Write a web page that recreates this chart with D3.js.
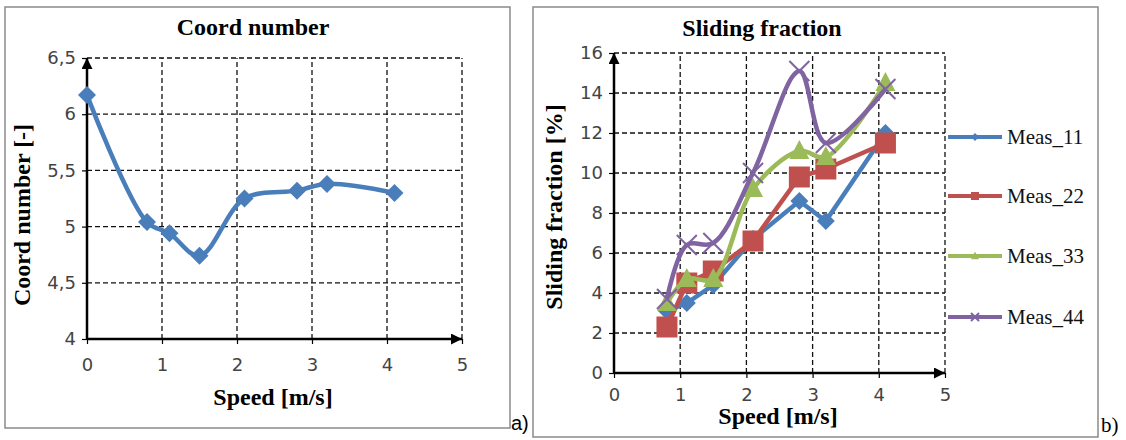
<!DOCTYPE html>
<html>
<head>
<meta charset="utf-8">
<script src="https://cdn.jsdelivr.net/npm/d3@7"></script>
<style>
  body { margin: 0; background: #fff; }
  .grid line { stroke: #111; stroke-width: 1.3; stroke-dasharray: 5,3; }
  .tick text { font-family: "DejaVu Sans", sans-serif; fill: #444; }
</style>
</head>
<body>
<script>
// chart a) coordination number
var speedCoord = [0, 0.8, 1.1, 1.5, 2.1, 2.8, 3.2, 4.1];
var coordNumber = [6.17, 5.04, 4.94, 4.74, 5.25, 5.32, 5.38, 5.30];
var coordXTicks = [0, 1, 2, 3, 4, 5];
var coordYTicks = [4, 4.5, 5, 5.5, 6, 6.5];

// chart b) sliding fraction
var speedSliding = [0.8, 1.1, 1.5, 2.1, 2.8, 3.2, 4.1];
var meas11 = [3.1, 3.5, 4.4, 6.7, 8.6, 7.6, 12.0];
var meas22 = [2.3, 4.5, 5.1, 6.6, 9.8, 10.2, 11.5];
var meas33 = [3.5, 4.7, 4.7, 9.2, 11.1, 10.8, 14.5];
var meas44 = [3.7, 6.4, 6.5, 10.0, 15.1, 11.5, 14.2];
var seriesNames = ["Meas_11", "Meas_22", "Meas_33", "Meas_44"];
var slidingXTicks = [0, 1, 2, 3, 4, 5];
var slidingYTicks = [0, 2, 4, 6, 8, 10, 12, 14, 16];

var colours = ["#4a7ebb", "#c0504d", "#9bbb59", "#8064a2"];
var symbols = ["diamond", "square", "triangle", "cross"];
var markerSize = [9, 10.5, 10, 10];

var width = 1126, height = 440;

var svg = d3.select("body").append("svg")
    .attr("width", width)
    .attr("height", height);

var defs = svg.append("defs");
defs.append("marker")
    .attr("id", "arrow")
    .attr("viewBox", "0 0 10 10")
    .attr("refX", 10).attr("refY", 5)
    .attr("markerUnits", "userSpaceOnUse")
    .attr("markerWidth", 14).attr("markerHeight", 11)
    .attr("orient", "auto")
  .append("path")
    .attr("d", "M0,0L10,5L0,10Z")
    .attr("fill", "#000");

function drawMarker(g, kind, x, y, size, colour) {
    if (kind == "diamond") {
        g.append("path")
            .attr("d", "M" + x + "," + (y - size) + "L" + (x + size) + "," + y + "L" + x + "," + (y + size) + "L" + (x - size) + "," + y + "Z")
            .attr("fill", colour);
    } else if (kind == "square") {
        g.append("rect")
            .attr("x", x - size).attr("y", y - size)
            .attr("width", size * 2).attr("height", size * 2)
            .attr("fill", colour);
    } else if (kind == "triangle") {
        g.append("path")
            .attr("d", "M" + x + "," + (y - size * 1.1) + "L" + (x + size) + "," + (y + size * 0.8) + "L" + (x - size) + "," + (y + size * 0.8) + "Z")
            .attr("fill", colour);
    } else {
        g.append("path")
            .attr("d", "M" + (x - size) + "," + (y - size) + "L" + (x + size) + "," + (y + size) + "M" + (x + size) + "," + (y - size) + "L" + (x - size) + "," + (y + size))
            .attr("stroke", colour).attr("stroke-width", 2).attr("fill", "none");
    }
}

function panel(opts) {
    var g = svg.append("g");
    var x = d3.scaleLinear().domain(opts.xDomain).range(opts.xRange);
    var y = d3.scaleLinear().domain(opts.yDomain).range(opts.yRange);

    g.append("rect")
        .attr("x", opts.box[0]).attr("y", opts.box[1])
        .attr("width", opts.box[2]).attr("height", opts.box[3])
        .attr("fill", "#fff").attr("stroke", "#8a8a8a").attr("stroke-width", 1.5);

    // dashed grid
    var grid = g.append("g").attr("class", "grid");
    grid.selectAll(".gx").data(opts.xTicks.slice(1)).enter().append("line")
        .attr("x1", d => x(d)).attr("x2", d => x(d))
        .attr("y1", y(opts.yDomain[0])).attr("y2", y(opts.yDomain[1]));
    grid.selectAll(".gy").data(opts.yTicks.slice(1)).enter().append("line")
        .attr("x1", x(opts.xDomain[0])).attr("x2", x(opts.xDomain[1]))
        .attr("y1", d => y(d)).attr("y2", d => y(d));

    var fmt = function (d) { return String(d).replace(".", ","); };

    var xAxis = g.append("g")
        .attr("transform", "translate(0," + y(opts.yDomain[0]) + ")")
        .call(d3.axisBottom(x).tickValues(opts.xTicks).tickFormat(fmt).tickSize(5).tickPadding(opts.xPad));
    var yAxis = g.append("g")
        .attr("transform", "translate(" + x(opts.xDomain[0]) + ",0)")
        .call(d3.axisLeft(y).tickValues(opts.yTicks).tickFormat(fmt).tickSize(5).tickPadding(6));
    [xAxis, yAxis].forEach(function (a) {
        a.select(".domain").remove();
        a.selectAll(".tick line").attr("stroke", "#000").attr("stroke-width", 1.2);
        a.selectAll(".tick text").style("font-size", "18px");
    });

    g.append("line")
        .attr("x1", x(opts.xDomain[0])).attr("x2", x(opts.xDomain[1]))
        .attr("y1", y(opts.yDomain[0])).attr("y2", y(opts.yDomain[0]))
        .attr("stroke", "#000").attr("stroke-width", 2.5).attr("marker-end", "url(#arrow)");
    g.append("line")
        .attr("x1", x(opts.xDomain[0])).attr("x2", x(opts.xDomain[0]))
        .attr("y1", y(opts.yDomain[0])).attr("y2", y(opts.yDomain[1]))
        .attr("stroke", "#000").attr("stroke-width", 2.5).attr("marker-end", "url(#arrow)");

    g.append("text")
        .attr("x", opts.titlePos[0]).attr("y", opts.titlePos[1])
        .attr("text-anchor", "middle")
        .style("font-family", "Liberation Serif, serif").style("font-weight", "bold")
        .style("font-size", "24px")
        .text(opts.title);
    g.append("text")
        .attr("x", opts.xLabelPos[0]).attr("y", opts.xLabelPos[1])
        .attr("text-anchor", "middle")
        .style("font-family", "Liberation Serif, serif").style("font-weight", "bold")
        .style("font-size", "24px")
        .text("Speed [m/s]");
    g.append("text")
        .attr("transform", "translate(" + opts.yLabelPos[0] + "," + opts.yLabelPos[1] + ") rotate(-90)")
        .attr("text-anchor", "middle")
        .style("font-family", "Liberation Serif, serif").style("font-weight", "bold")
        .style("font-size", "24px")
        .text(opts.yLabel);

    return { g: g, x: x, y: y };
}

// ---- a) ----
var a = panel({
    box: [5, 7, 505, 421],
    xDomain: [0, 5], xRange: [87, 462],
    yDomain: [4, 6.5], yRange: [339, 58],
    xTicks: coordXTicks, yTicks: coordYTicks, xPad: 14,
    title: "Coord number", titlePos: [253, 35],
    xLabelPos: [273, 405], yLabelPos: [30, 215],
    yLabel: "Coord number [-]"
});

var coordLine = d3.line()
    .x(function (d, i) { return a.x(speedCoord[i]); })
    .y(function (d) { return a.y(d); })
    .curve(d3.curveCatmullRom.alpha(0.5));

a.g.append("path")
    .datum(coordNumber)
    .attr("d", coordLine)
    .attr("fill", "none").attr("stroke", colours[0]).attr("stroke-width", 4.5);
coordNumber.forEach(function (v, i) {
    drawMarker(a.g, "diamond", a.x(speedCoord[i]), a.y(v), 9, colours[0]);
});

svg.append("text").attr("x", 511).attr("y", 430)
    .style("font-family", "Liberation Sans, sans-serif").style("font-size", "20px")
    .text("a)");

// ---- b) ----
var b = panel({
    box: [533, 7, 565, 430],
    xDomain: [0, 5], xRange: [614, 945],
    yDomain: [0, 16], yRange: [373, 53],
    xTicks: slidingXTicks, yTicks: slidingYTicks, xPad: 10,
    title: "Sliding fraction", titlePos: [762, 36],
    xLabelPos: [778, 424], yLabelPos: [562, 207],
    yLabel: "Sliding fraction [%]"
});

var slidingSeries = [meas11, meas22, meas33, meas44];
var curves = [d3.curveLinear, d3.curveLinear, d3.curveCatmullRom.alpha(0.5), d3.curveCatmullRom.alpha(0.5)];

slidingSeries.forEach(function (vals, s) {
    var line = d3.line()
        .x(function (d, i) { return b.x(speedSliding[i]); })
        .y(function (d) { return b.y(d); })
        .curve(curves[s]);
    b.g.append("path")
        .datum(vals)
        .attr("d", line)
        .attr("fill", "none").attr("stroke", colours[s]).attr("stroke-width", 4.5);
    vals.forEach(function (v, i) {
        drawMarker(b.g, symbols[s], b.x(speedSliding[i]), b.y(v), markerSize[s], colours[s]);
    });
});

// legend
var legend = svg.append("g");
var legendY = [137, 196, 256, 317];
seriesNames.forEach(function (name, s) {
    var ly = legendY[s];
    legend.append("line")
        .attr("x1", 948).attr("x2", 1002).attr("y1", ly).attr("y2", ly)
        .attr("stroke", colours[s]).attr("stroke-width", 4);
    drawMarker(legend, symbols[s], 975, ly, 4, colours[s]);
    legend.append("text")
        .attr("x", 1007).attr("y", ly + 7)
        .style("font-family", "Liberation Serif, serif").style("font-size", "21px")
        .attr("fill", "#111")
        .text(name);
});

svg.append("text").attr("x", 1101).attr("y", 432)
    .style("font-family", "Liberation Serif, serif").style("font-size", "21px")
    .text("b)");
</script>
</body>
</html>
